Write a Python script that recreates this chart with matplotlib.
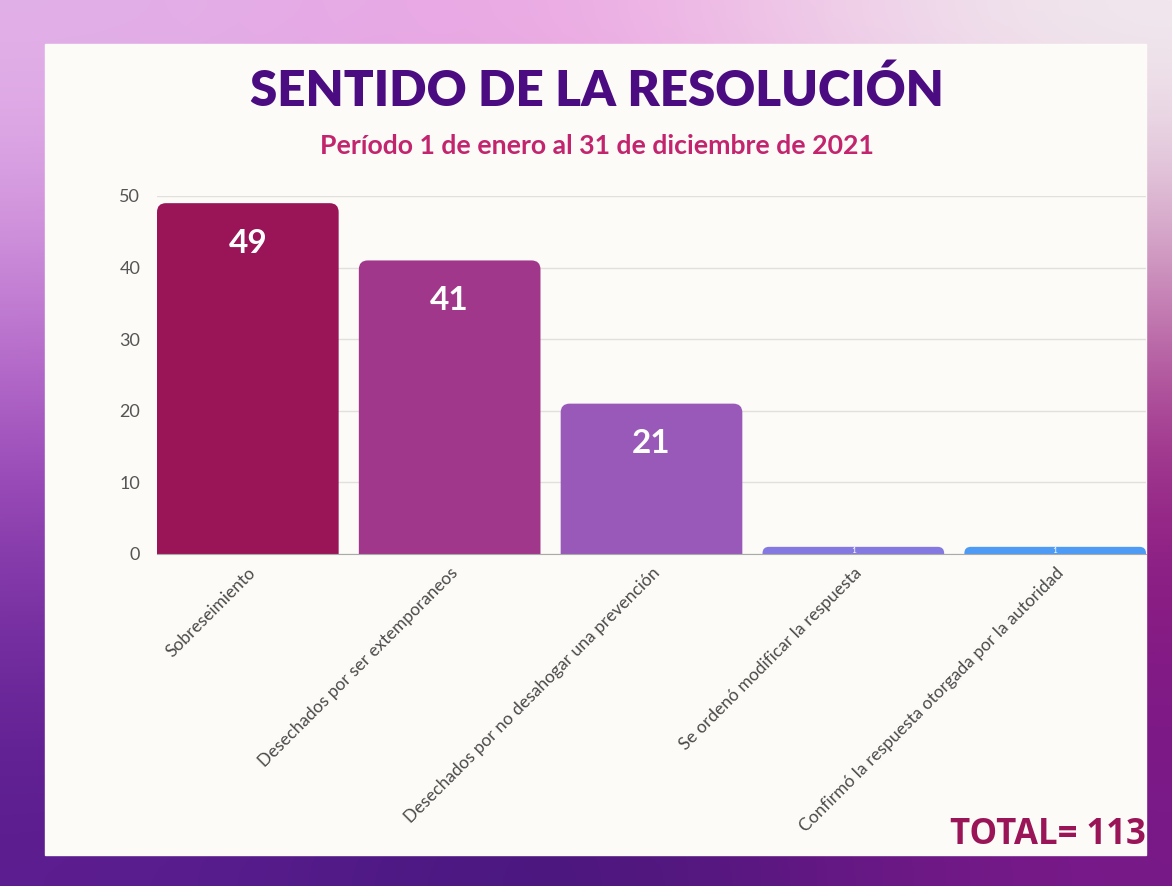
# Bibliotecas
#============
import numpy as np
import matplotlib.pyplot as plt
from matplotlib.patches import PathPatch, Rectangle
from matplotlib.path import Path
from matplotlib.colors import to_rgb

#====================================================================#
#                     SENTIDO DE LA RESOLUCIÓN                       #
#====================================================================#

# 1 - Datos
#==========
categorias = ["Sobreseimiento",
              "Desechados por ser extemporaneos",
              "Desechados por no desahogar una prevención",
              "Se ordenó modificar la respuesta",
              "Confirmó la respuesta otorgada por la autoridad"]
valores = [49, 41, 21, 1, 1]
colores = ["#9A1558", "#A0378A", "#9859B9", "#8479E0", "#4E9BF6"]
yticks = [0, 10, 20, 30, 40, 50]

titulo = "SENTIDO DE LA RESOLUCIÓN"
subtitulo = "Período 1 de enero al 31 de diciembre de 2021"
total_txt = "TOTAL= 113"

plt.rcParams['font.family'] = ['Lato', 'DejaVu Sans']

W, H = 1172, 886
fig = plt.figure(figsize=(W / 100, H / 100), dpi=100)

# 2 - Fondo (degradado + tarjeta)
#================================
bg = fig.add_axes([0, 0, 1, 1], zorder=-10)
malla = np.array([[to_rgb(c) for c in fila] for fila in [
    ["#E4B4EA", "#F2A6E4", "#F4F2F2"],
    ["#A54EC0", "#8A2A9E", "#9C1A7A"],
    ["#5A1C8E", "#3C1478", "#7A1A8A"]]])
bg.imshow(malla, aspect='auto', interpolation='bicubic', extent=[0, 1, 0, 1])
bg.add_patch(Rectangle((45 / W, 1 - 855 / H), (1146 - 45) / W, (855 - 44) / H,
                       transform=bg.transAxes, color="#FDFBF7"))
bg.set_xlim(0, 1)
bg.set_ylim(0, 1)
bg.axis('off')

# 3 - Gráfico de barras
#======================
ax = fig.add_axes([157 / W, 332 / H, (1146 - 157) / W, (690 - 332) / H])
ax.set_facecolor('none')
ax.set_xlim(-0.45, len(valores) - 0.55)
ax.set_ylim(0, 50)

# Barra con esquinas superiores redondeadas
#------------------------------------------
px_x = ax.get_position().width * W / (len(valores) - 0.1)
px_y = ax.get_position().height * H / 50
ancho = 0.9

def barra(xc, h, color):
    r_px = min(9, h * px_y * 0.9)
    rx, ry = r_px / px_x, r_px / px_y
    x0, x1 = xc - ancho / 2, xc + ancho / 2
    verts = [(x0, 0), (x0, h - ry), (x0, h), (x0 + rx, h),
             (x1 - rx, h), (x1, h), (x1, h - ry), (x1, 0), (x0, 0)]
    codes = [Path.MOVETO, Path.LINETO, Path.CURVE3, Path.CURVE3,
             Path.LINETO, Path.CURVE3, Path.CURVE3, Path.LINETO, Path.CLOSEPOLY]
    ax.add_patch(PathPatch(Path(verts, codes), facecolor=color, lw=0, zorder=3))

for i, (v, c) in enumerate(zip(valores, colores)):
    barra(i, v, c)
    if v > 5:
        ax.text(i, v - 5.6, str(v), ha='center', va='center', color='white',
                fontsize=24, fontweight='bold', zorder=4)
    else:
        ax.text(i, v / 2, str(v), ha='center', va='center', color='white',
                fontsize=6, zorder=4)

ax.set_yticks(yticks)
ax.set_xticks(range(len(categorias)))
ax.set_xticklabels(categorias, rotation=45, ha='right', rotation_mode='anchor',
                   fontsize=12.5, color="#4A4A4A")
ax.tick_params(axis='x', length=0, pad=8)
ax.tick_params(axis='y', length=0, pad=12, labelsize=13, labelcolor="#555555")
ax.grid(axis='y', color="#E2E0DC", lw=1, zorder=0)
for s in ['top', 'right', 'left']:
    ax.spines[s].set_visible(False)
ax.spines['bottom'].set_color("#AAAAAA")
ax.spines['bottom'].set_zorder(5)

# 4 - Textos
#===========
fig.text(597 / W, 1 - 91 / H, titulo, ha='center', va='center',
         fontsize=35.5, fontweight='heavy', color="#4B0C82")
fig.text(597 / W, 1 - 146 / H, subtitulo, ha='center', va='center',
         fontsize=19.2, fontweight='bold', color="#C2256E")
fig.text(1146 / W, 1 - 835 / H, total_txt, ha='right', va='center',
         fontsize=25, fontweight='bold', color="#9A1558",
         family=['Open Sans', 'DejaVu Sans'])

fig.savefig("out.png", dpi=100)
